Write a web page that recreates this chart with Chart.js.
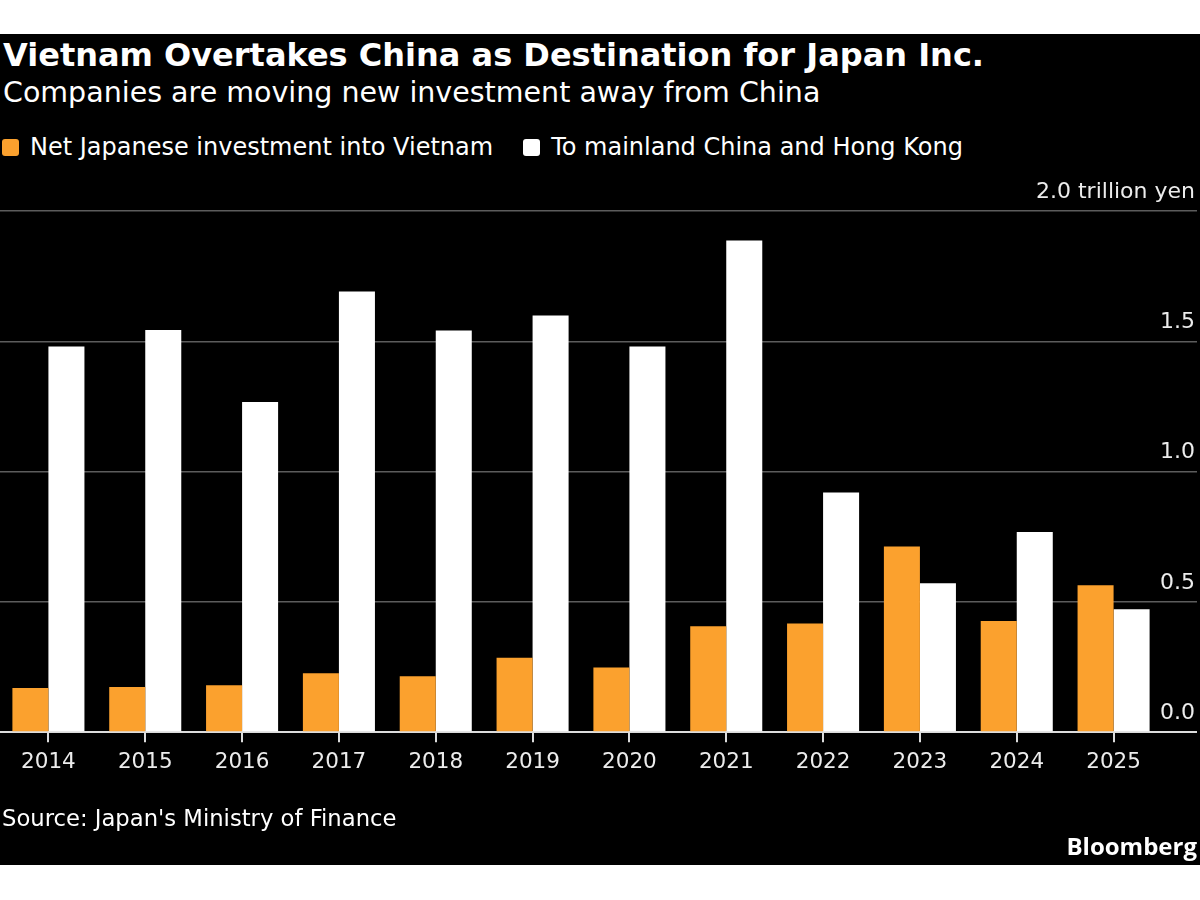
<!DOCTYPE html>
<html>
<head>
<meta charset="utf-8">
<script src="https://cdn.jsdelivr.net/npm/chart.js@4.4.1/dist/chart.umd.min.js"></script>
<style>
    body { margin: 0; background: #fff; font-family: 'DejaVu Sans', sans-serif; }
    #panel { position: absolute; left: 0; top: 34px; width: 1200px; height: 831px; background: #000; color: #fff; overflow: hidden; }
    #title { position: absolute; left: 3px; top: 3px; font-size: 32px; line-height: 36px; font-weight: 700; white-space: nowrap; }
    #subtitle { position: absolute; left: 3px; top: 42px; font-size: 28.5px; line-height: 34px; white-space: nowrap; }
    #legend { position: absolute; left: 2px; top: 99px; display: flex; font-size: 24px; line-height: 28px; white-space: nowrap; }
    #legend .item { display: flex; align-items: center; margin-right: 30px; }
    #legend .box { width: 17px; height: 17px; border-radius: 3px; margin-right: 11px; }
    #chart-wrap { position: absolute; left: 0; top: 116px; width: 1200px; height: 715px; }
    #source { position: absolute; left: 2px; top: 770px; font-size: 22.7px; line-height: 28px; white-space: nowrap; }
    #brand { position: absolute; right: 3px; top: 798px; font-family: 'Open Sans', sans-serif; font-size: 24px; line-height: 28px; font-weight: 700; white-space: nowrap; }
</style>
</head>
<body>
<div id="panel">
    <div id="title">Vietnam Overtakes China as Destination for Japan Inc.</div>
    <div id="subtitle">Companies are moving new investment away from China</div>
    <div id="legend"></div>
    <div id="chart-wrap"><canvas id="chart" width="1200" height="715"></canvas></div>
    <div id="source">Source: Japan's Ministry of Finance</div>
    <div id="brand">Bloomberg</div>
</div>
<script>
    // Data (trillion yen)
    const years = ['2014', '2015', '2016', '2017', '2018', '2019', '2020', '2021', '2022', '2023', '2024', '2025'];
    const vietnam = [0.17, 0.173, 0.18, 0.226, 0.215, 0.286, 0.248, 0.407, 0.417, 0.713, 0.427, 0.564];
    const china = [1.48, 1.543, 1.267, 1.691, 1.541, 1.599, 1.48, 1.887, 0.92, 0.572, 0.768, 0.472];
    const yTicks = [0, 0.5, 1.0, 1.5, 2.0];

    const orange = '#fba12e';
    const gridGray = '#5c5c5c';
    const zeroLine = '#dcdcdc';
    const labelColor = '#ececec';
    const fontFamily = 'DejaVu Sans';

    const ctx = document.getElementById('chart');

    const chart = new Chart(ctx, {
        type: 'bar',
        data: {
            labels: years,
            datasets: [
                {
                    label: 'Net Japanese investment into Vietnam',
                    data: vietnam,
                    backgroundColor: orange,
                    borderWidth: 0,
                },
                {
                    label: 'To mainland China and Hong Kong',
                    data: china,
                    backgroundColor: '#ffffff',
                    borderWidth: 0,
                },
            ],
        },
        options: {
            responsive: false,
            animation: false,
            devicePixelRatio: 1,
            layout: {
                padding: { top: 61, right: 3, bottom: 83, left: 0 },
            },
            datasets: {
                bar: {
                    barPercentage: 1,
                    categoryPercentage: 0.744,
                },
            },
            scales: {
                x: {
                    border: { display: false },
                    grid: {
                        offset: false,
                        drawOnChartArea: false,
                        drawTicks: true,
                        tickLength: 10,
                        tickColor: zeroLine,
                        lineWidth: 2,
                    },
                    ticks: {
                        color: labelColor,
                        padding: 7,
                        font: { family: fontFamily, size: 21.5 },
                    },
                },
                y: {
                    position: 'right',
                    min: 0,
                    max: 2.0,
                    border: { display: false },
                    afterBuildTicks: (scale) => {
                        scale.ticks = yTicks.map(v => ({ value: v }));
                    },
                    // keep the axis box to the width of the grid line stubs
                    afterFit: (scale) => {
                        scale.width = 35;
                    },
                    grid: {
                        color: (c) => (c.tick && c.tick.value === 0 ? zeroLine : gridGray),
                        tickColor: (c) => (c.tick && c.tick.value === 0 ? zeroLine : gridGray),
                        lineWidth: (c) => (c.tick && c.tick.value === 0 ? 2 : 1.5),
                        drawTicks: true,
                        tickLength: 35,
                    },
                    ticks: {
                        mirror: true,
                        padding: 33,
                        labelOffset: -19,
                        color: labelColor,
                        font: { family: fontFamily, size: 22 },
                        callback: (v) => (v === 2 ? '2.0 trillion yen' : Number(v).toFixed(1)),
                    },
                },
            },
            plugins: {
                legend: { display: false },
                tooltip: { enabled: false },
                htmlLegend: { containerID: 'legend' },
            },
        },
        plugins: [{
            id: 'htmlLegend',
            afterUpdate(c, args, options) {
                const box = document.getElementById(options.containerID);
                box.innerHTML = '';
                c.data.datasets.forEach((ds) => {
                    const item = document.createElement('div');
                    item.className = 'item';
                    const sw = document.createElement('span');
                    sw.className = 'box';
                    sw.style.background = ds.backgroundColor;
                    const txt = document.createElement('span');
                    txt.textContent = ds.label;
                    item.appendChild(sw);
                    item.appendChild(txt);
                    box.appendChild(item);
                });
            },
        }],
    });
</script>
</body>
</html>
